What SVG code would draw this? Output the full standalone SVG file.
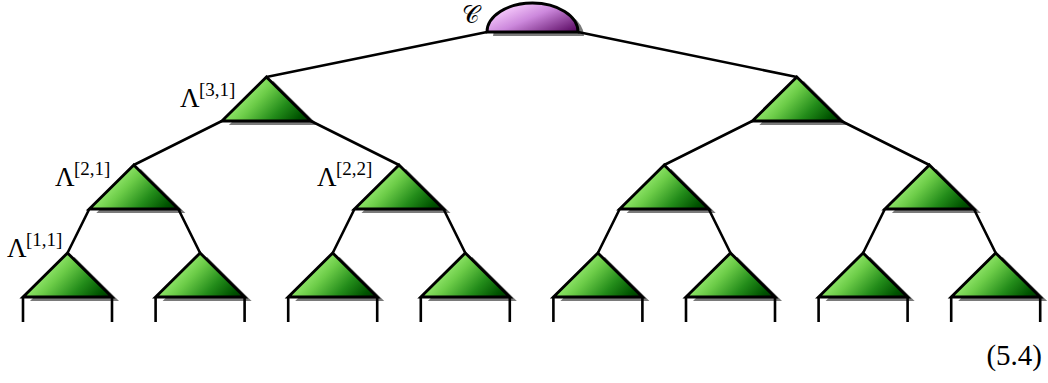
<svg xmlns="http://www.w3.org/2000/svg" xmlns:xlink="http://www.w3.org/1999/xlink" width="1048" height="383" viewBox="0 0 1048 383">
<style>
.tri{fill:url(#gg);stroke:#000;stroke-width:2.9;stroke-linejoin:miter}
.cap{fill:url(#gp);stroke:#000;stroke-width:2.9}
.sh{fill:#7a7a7a;stroke:none}
.edge{stroke:#000;stroke-width:2.6;fill:none;stroke-linecap:butt}
.leg{stroke:#000;stroke-width:2.6;fill:none}
.lab{font-family:"Liberation Serif",serif;font-size:27px;fill:#000}
.sup{font-size:19px}
.eq{font-family:"Liberation Serif",serif;font-size:29px;fill:#000}
.cal{font-family:"DejaVu Serif","Noto Sans",serif;font-size:24px;fill:#000}
</style>
<defs>
<linearGradient id="gg" x1="0.05" y1="0.55" x2="1" y2="1">
<stop offset="0" stop-color="#aaf882"/>
<stop offset="0.3" stop-color="#6ccc48"/>
<stop offset="0.6" stop-color="#238c1a"/>
<stop offset="0.85" stop-color="#005400"/>
<stop offset="1" stop-color="#003400"/>
</linearGradient>
<linearGradient id="gp" x1="0.05" y1="0.3" x2="1" y2="1">
<stop offset="0" stop-color="#fad0ff"/>
<stop offset="0.4" stop-color="#cc88dc"/>
<stop offset="1" stop-color="#52005a"/>
</linearGradient>
<path id="t" d="M0,0 L44.5,44 L-44.5,44 Z"/>
</defs>

<g id="node-C">
<path class="sh" d="M493,36 A45.5,29 0 0 1 584,36 Z"/>
<path class="cap" d="M487,32 A45.5,29 0 0 1 578,32 Z"/>
<text class="cal" x="462" y="23">𝒞</text>
</g>

<g id="node-L31">
<use class="sh" href="#t" x="273.4" y="81"/>
<use class="tri" href="#t" x="266.4" y="77"/>
<text class="lab" x="180" y="107">Λ<tspan class="sup" x="199" y="96">[3,1]</tspan></text>
</g>
<g id="node-L32">
<use class="sh" href="#t" x="803.8" y="81"/>
<use class="tri" href="#t" x="796.8" y="77"/>
</g>

<g id="node-L21">
<use class="sh" href="#t" x="140.8" y="169"/>
<use class="tri" href="#t" x="133.8" y="165"/>
<text class="lab" x="55" y="186">Λ<tspan class="sup" x="74" y="175">[2,1]</tspan></text>
</g>
<g id="node-L22">
<use class="sh" href="#t" x="406" y="169"/>
<use class="tri" href="#t" x="399" y="165"/>
<text class="lab" x="317" y="186">Λ<tspan class="sup" x="336" y="175">[2,2]</tspan></text>
</g>
<g id="node-L23">
<use class="sh" href="#t" x="671.2" y="169"/>
<use class="tri" href="#t" x="664.2" y="165"/>
</g>
<g id="node-L24">
<use class="sh" href="#t" x="936.4" y="169"/>
<use class="tri" href="#t" x="929.4" y="165"/>
</g>

<g id="node-L11">
<use class="sh" href="#t" x="74.5" y="257"/>
<use class="tri" href="#t" x="67.5" y="253"/>
<text class="lab" x="7" y="257">Λ<tspan class="sup" x="26" y="246">[1,1]</tspan></text>
</g>
<g id="node-L12">
<use class="sh" href="#t" x="207.1" y="257"/>
<use class="tri" href="#t" x="200.1" y="253"/>
</g>
<g id="node-L13">
<use class="sh" href="#t" x="339.7" y="257"/>
<use class="tri" href="#t" x="332.7" y="253"/>
</g>
<g id="node-L14">
<use class="sh" href="#t" x="472.3" y="257"/>
<use class="tri" href="#t" x="465.3" y="253"/>
</g>
<g id="node-L15">
<use class="sh" href="#t" x="604.9" y="257"/>
<use class="tri" href="#t" x="597.9" y="253"/>
</g>
<g id="node-L16">
<use class="sh" href="#t" x="737.5" y="257"/>
<use class="tri" href="#t" x="730.5" y="253"/>
</g>
<g id="node-L17">
<use class="sh" href="#t" x="870.1" y="257"/>
<use class="tri" href="#t" x="863.1" y="253"/>
</g>
<g id="node-L18">
<use class="sh" href="#t" x="1002.7" y="257"/>
<use class="tri" href="#t" x="995.7" y="253"/>
</g>

<g id="connectors">
<path class="edge" d="M487,32 L266.4,77 M578,32 L796.8,77"/>
<path class="edge" d="M221.9,121 L133.8,165 M310.9,121 L399,165 M752.3,121 L664.2,165 M841.3,121 L929.4,165"/>
<path class="edge" d="M89.3,209 L67.5,253 M178.3,209 L200.1,253 M354.5,209 L332.7,253 M443.5,209 L465.3,253 M619.7,209 L597.9,253 M708.7,209 L730.5,253 M884.9,209 L863.1,253 M973.9,209 L995.7,253"/>
<path class="leg" d="M23,297 V322 M112,297 V322 M155.6,297 V322 M244.6,297 V322 M288.2,297 V322 M377.2,297 V322 M420.8,297 V322 M509.8,297 V322 M553.4,297 V322 M642.4,297 V322 M686,297 V322 M775,297 V322 M818.6,297 V322 M907.6,297 V322 M951.2,297 V322 M1040.2,297 V322"/>
</g>

<text class="eq" x="1042" y="365" text-anchor="end">(5.4)</text>
</svg>
